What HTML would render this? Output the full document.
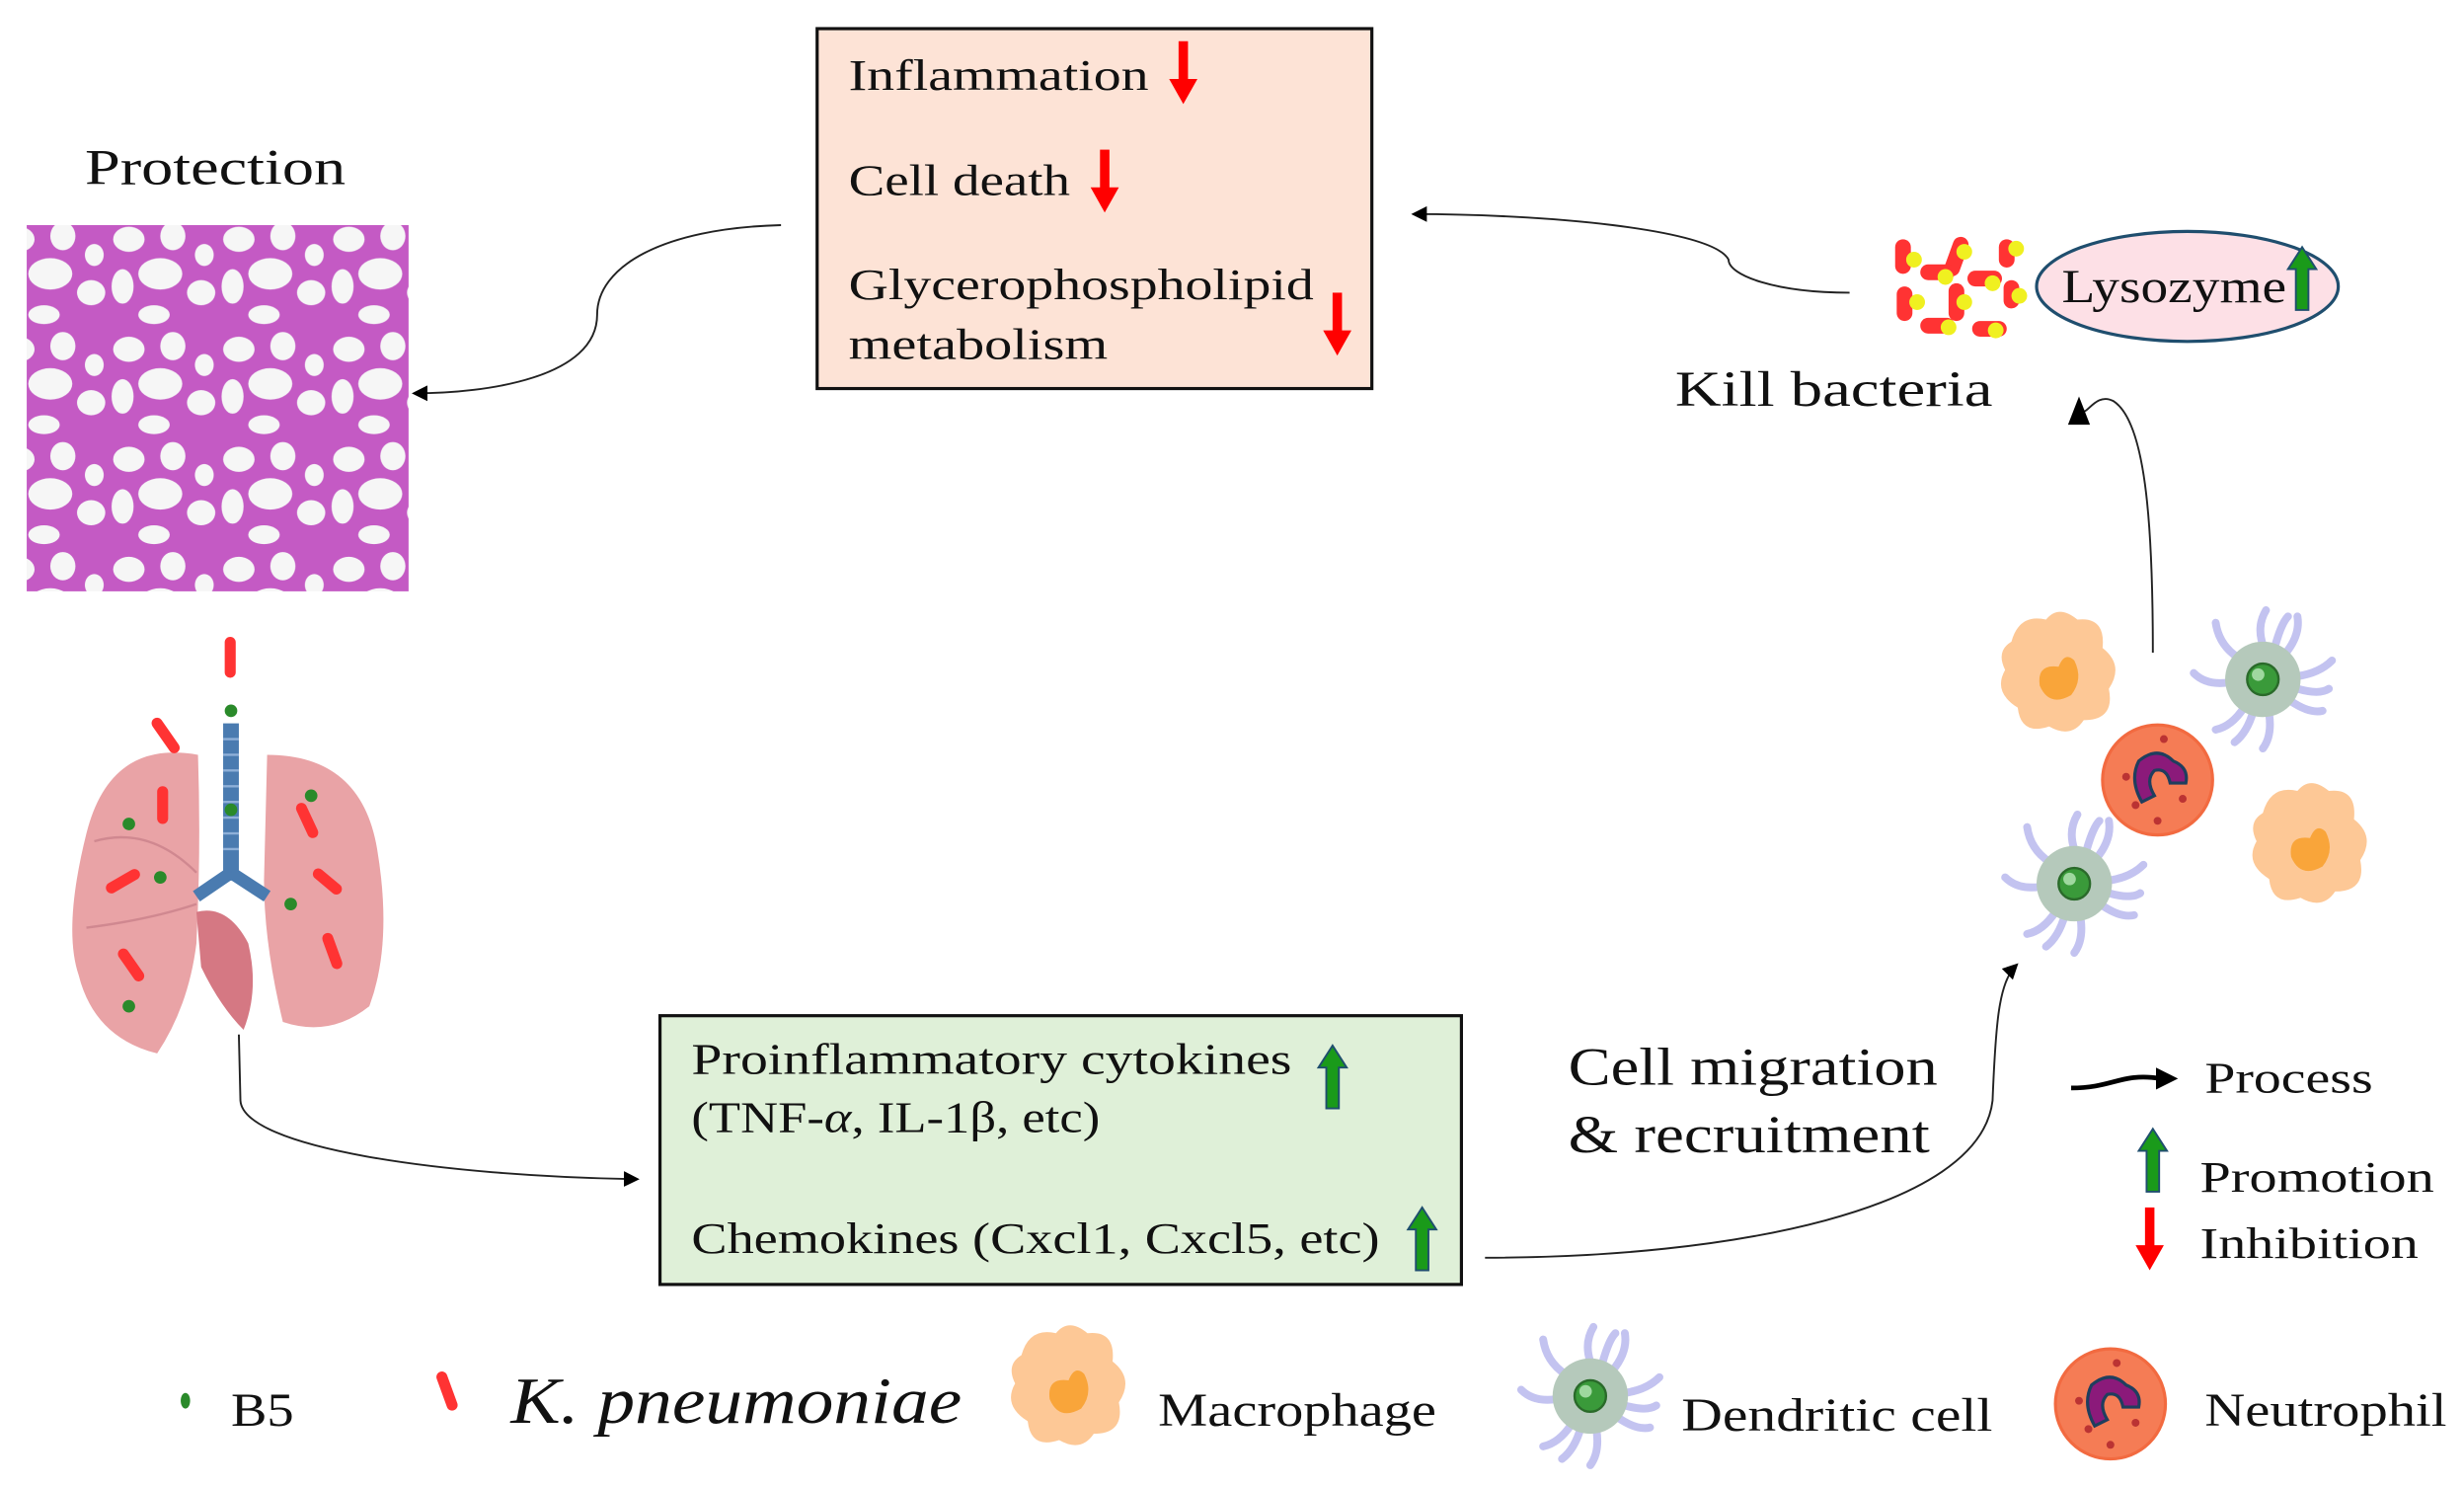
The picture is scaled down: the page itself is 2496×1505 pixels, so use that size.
<!DOCTYPE html>
<html><head><meta charset="utf-8"><style>
html,body{margin:0;padding:0;background:#fff;}
svg{display:block;}
text{font-family:"Liberation Serif",serif;fill:#111;}
</style></head><body>
<svg width="2496" height="1505" viewBox="0 0 1568 945" xmlns="http://www.w3.org/2000/svg">
<defs>
<marker id="ah" markerWidth="10" markerHeight="10" refX="8" refY="5" orient="auto" markerUnits="userSpaceOnUse">
<path d="M0,0 L10,5 L0,10 Z" fill="#000"/></marker>
<g id="red"><rect x="-3" y="0" width="6" height="26" fill="#f00"/><path d="M-9,24 L9,24 L0,40 Z" fill="#f00"/></g>
<g id="grn"><path d="M-4,40 L-4,14 L-9,14 L0,0 L9,14 L4,14 L4,40 Z" fill="#1a9a1a" stroke="#1f4e6e" stroke-width="1.2"/></g>
<g id="mac"><path d="M-30,-20 Q-25,-38 -8,-34 Q0,-44 12,-34 Q30,-36 28,-16 Q42,-5 32,10 Q36,30 16,30 Q8,42 -6,34 Q-24,40 -26,22 Q-42,12 -34,-2 Q-40,-14 -30,-20 Z" fill="#fdc896"/><path d="M-12,8 Q-14,-6 0,-4 Q4,-14 10,-8 Q16,4 8,14 Q-6,22 -12,8 Z" fill="#f9a53a"/></g>
<g id="den" stroke="#c3c3f0" stroke-width="5" stroke-linecap="round" fill="none">
<path d="M0,-22 Q-4,-34 2,-44 M14,-16 Q24,-28 22,-40 M22,-2 Q36,-4 44,-12 M18,14 Q30,22 38,20 M4,22 Q6,36 0,44 M-12,18 Q-20,30 -30,32 M-22,2 Q-36,4 -44,-4 M-16,-14 Q-28,-22 -30,-36 M8,-22 Q12,-36 16,-40 M-6,20 Q-10,34 -18,40 M22,6 Q36,10 42,6"/>
<circle r="24" fill="#b5c9bb" stroke="none"/><circle r="10" fill="#3a9a3a" stroke="#2a6a2a" stroke-width="1.5"/><circle cx="-3" cy="-3" r="4" fill="#9fd89f" stroke="none"/></g>
<g id="neu"><circle r="35" fill="#f57c55" stroke="#f26a40" stroke-width="2"/><path d="M10,-12 Q0,-22 -12,-12 Q-18,0 -10,14 L-2,10 Q-8,0 -2,-6 Q6,-8 8,2 L18,2 Q20,-8 10,-12 Z" fill="#8b1a7a" stroke="#1f3e5e" stroke-width="2"/>
<g fill="#b33"><circle cx="4" cy="-26" r="2.5"/><circle cx="-20" cy="-2" r="2.5"/><circle cx="-14" cy="16" r="2.5"/><circle cx="0" cy="26" r="2.5"/><circle cx="16" cy="12" r="2.5"/></g></g>
<pattern id="histo" width="70" height="70" patternUnits="userSpaceOnUse">
<rect width="70" height="70" fill="#c45ac4"/>
<g fill="#f6f6f6"><ellipse cx="12" cy="12" rx="10" ry="8"/><ellipse cx="40" cy="10" rx="8" ry="9"/><ellipse cx="32" cy="34" rx="14" ry="10"/><ellipse cx="8" cy="42" rx="7" ry="11"/><ellipse cx="58" cy="46" rx="9" ry="8"/><ellipse cx="28" cy="60" rx="10" ry="6"/><ellipse cx="60" cy="22" rx="6" ry="7"/></g></pattern>
</defs>

<rect x="520" y="18" width="353" height="229" fill="#fde3d6" stroke="#111" stroke-width="2"/>
<text x="540" y="57" font-size="28" textLength="191" lengthAdjust="spacingAndGlyphs">Inflammation</text>
<text x="540" y="124" font-size="28" textLength="141" lengthAdjust="spacingAndGlyphs">Cell death</text>
<text x="540" y="190" font-size="28" textLength="296" lengthAdjust="spacingAndGlyphs">Glycerophospholipid</text>
<text x="540" y="228" font-size="28" textLength="165" lengthAdjust="spacingAndGlyphs">metabolism</text>
<use href="#red" x="753" y="26"/><use href="#red" x="703" y="95"/><use href="#red" x="851" y="186"/>

<text x="54" y="117" font-size="32" textLength="166" lengthAdjust="spacingAndGlyphs">Protection</text>
<rect x="17" y="143" width="243" height="233" fill="url(#histo)"/>

<path d="M497,143 C420,145 380,170 380,200 C380,240 310,250 264,250" fill="none" stroke="#222" stroke-width="1.2" marker-end="url(#ah)"/>
<path d="M1177,186 C1130,186 1100,175 1100,165 C1090,145 980,136 900,136" fill="none" stroke="#222" stroke-width="1.2" marker-end="url(#ah)"/>

<g fill="#f33">
<rect x="1206" y="152" width="10" height="22" rx="5"/><rect x="1240" y="150" width="10" height="26" rx="5" transform="rotate(20 1245 163)"/><rect x="1272" y="152" width="10" height="18" rx="5"/>
<rect x="1222" y="168" width="22" height="10" rx="5"/><rect x="1252" y="172" width="22" height="10" rx="5"/>
<rect x="1207" y="182" width="10" height="22" rx="5"/><rect x="1240" y="180" width="10" height="24" rx="5"/><rect x="1275" y="178" width="10" height="18" rx="5"/>
<rect x="1222" y="202" width="22" height="10" rx="5"/><rect x="1255" y="204" width="22" height="10" rx="5"/></g>
<g fill="#f0f020"><circle cx="1218" cy="165" r="5"/><circle cx="1250" cy="160" r="5"/><circle cx="1283" cy="158" r="5"/><circle cx="1238" cy="176" r="5"/><circle cx="1268" cy="180" r="5"/><circle cx="1220" cy="192" r="5"/><circle cx="1250" cy="192" r="5"/><circle cx="1285" cy="188" r="5"/><circle cx="1240" cy="208" r="5"/><circle cx="1270" cy="210" r="5"/></g>
<ellipse cx="1392" cy="182" rx="96" ry="35" fill="#fde0e6" stroke="#1f4e6e" stroke-width="2"/>
<text x="1312" y="192" font-size="30" textLength="143" lengthAdjust="spacingAndGlyphs">Lysozyme</text>
<use href="#grn" x="1465" y="157"/>
<text x="1066" y="258" font-size="32" textLength="202" lengthAdjust="spacingAndGlyphs">Kill  bacteria</text>

<path d="M1370,415 C1370,330 1365,268 1345,255 C1332,248 1326,270 1324,258" fill="none" stroke="#222" stroke-width="1.2"/>
<path d="M1370,415 C1368,330 1362,285 1345,270 C1332,258 1325,250 1323,258" fill="none" stroke="none"/>
<path d="M1316,270 L1323,252 L1330,270 Z" fill="#000"/>

<use href="#mac" x="1310" y="428"/><use href="#den" x="1440" y="432"/><use href="#mac" x="1470" y="537"/><use href="#den" x="1320" y="562"/><use href="#neu" x="1373" y="496"/>

<path d="M945,800 C1100,800 1260,770 1268,700 C1270,650 1272,625 1283,614" fill="none" stroke="#222" stroke-width="1.2" marker-end="url(#ah)"/>
<text x="998" y="690" font-size="34" textLength="235" lengthAdjust="spacingAndGlyphs">Cell migration</text>
<text x="998" y="733" font-size="34" textLength="230" lengthAdjust="spacingAndGlyphs">&amp; recruitment</text>

<rect x="420" y="646" width="510" height="171" fill="#dff0d8" stroke="#111" stroke-width="2"/>
<text x="440" y="683" font-size="28" textLength="382" lengthAdjust="spacingAndGlyphs">Proinflammatory cytokines</text>
<text x="440" y="720" font-size="28" textLength="260" lengthAdjust="spacingAndGlyphs">(TNF-<tspan font-style="italic">α</tspan>, IL-1β, etc)</text>
<text x="440" y="797" font-size="28" textLength="438" lengthAdjust="spacingAndGlyphs">Chemokines (Cxcl1,  Cxcl5, etc)</text>
<use href="#grn" x="848" y="665"/><use href="#grn" x="905" y="768"/>

<path d="M126,480 Q70,470 55,530 Q40,590 50,620 Q60,660 100,670 Q120,640 125,600 Q128,540 126,480 Z" fill="#e9a3a6"/>
<path d="M170,480 Q230,480 240,540 Q250,600 235,640 Q210,660 180,650 Q168,600 168,560 Z" fill="#e9a3a6"/>
<path d="M125,580 Q145,575 158,600 Q165,630 155,655 Q140,640 128,615 Z" fill="#d57883"/>
<path d="M60,535 Q95,525 125,555 M55,590 Q95,585 125,575" stroke="#d08890" stroke-width="1.5" fill="none"/>
<rect x="142" y="460" width="10" height="100" fill="#4a7bb0"/>
<path d="M142,470 h10 M142,480 h10 M142,490 h10 M142,500 h10 M142,510 h10 M142,520 h10 M142,530 h10 M142,540 h10" stroke="#8fb0d8" stroke-width="1.5"/>
<path d="M147,555 L125,570 M147,555 L170,570" stroke="#4a7bb0" stroke-width="8" fill="none"/>
<g fill="#f33"><rect x="143" y="405" width="7" height="26" rx="3.5"/><rect x="102" y="455" width="7" height="26" rx="3.5" transform="rotate(-35 105 468)"/><rect x="100" y="500" width="7" height="24" rx="3.5"/><rect x="192" y="510" width="7" height="24" rx="3.5" transform="rotate(-25 195 522)"/><rect x="75" y="548" width="7" height="24" rx="3.5" transform="rotate(60 78 560)"/><rect x="205" y="550" width="7" height="22" rx="3.5" transform="rotate(-50 208 561)"/><rect x="80" y="602" width="7" height="24" rx="3.5" transform="rotate(-35 83 614)"/><rect x="208" y="593" width="7" height="24" rx="3.5" transform="rotate(-20 211 605)"/></g>
<g fill="#2a8a2a"><circle cx="147" cy="452" r="4"/><circle cx="82" cy="524" r="4"/><circle cx="198" cy="506" r="4"/><circle cx="102" cy="558" r="4"/><circle cx="185" cy="575" r="4"/><circle cx="82" cy="640" r="4"/><circle cx="147" cy="515" r="4"/></g>

<path d="M152,658 L153,700 C155,730 280,748 405,750" fill="none" stroke="#222" stroke-width="1.2" marker-end="url(#ah)"/>

<path d="M1318,692 C1345,692 1350,682 1375,686" stroke="#000" stroke-width="3" fill="none"/>
<path d="M1372,679 L1386,686 L1372,693 Z" fill="#000"/>
<text x="1403" y="695" font-size="28" textLength="107" lengthAdjust="spacingAndGlyphs">Process</text>
<use href="#grn" x="1370" y="718"/><text x="1400" y="758" font-size="28" textLength="149" lengthAdjust="spacingAndGlyphs">Promotion</text>
<use href="#red" x="1368" y="768"/><text x="1400" y="800" font-size="28" textLength="139" lengthAdjust="spacingAndGlyphs">Inhibition</text>

<ellipse cx="118" cy="891" rx="3" ry="5" fill="#2a8a2a"/>
<text x="147" y="907" font-size="30" textLength="40" lengthAdjust="spacingAndGlyphs">B5</text>
<rect x="281" y="872" width="7" height="26" rx="3.5" fill="#f33" transform="rotate(-20 284 885)"/>
<text x="325" y="905" font-size="42" font-style="italic" textLength="287" lengthAdjust="spacingAndGlyphs">K. pneumoniae</text>
<use href="#mac" x="680" y="882"/>
<text x="737" y="907" font-size="30" textLength="177" lengthAdjust="spacingAndGlyphs">Macrophage</text>
<use href="#den" x="1012" y="888"/>
<text x="1070" y="910" font-size="30" textLength="198" lengthAdjust="spacingAndGlyphs">Dendritic  cell</text>
<use href="#neu" x="1343" y="893"/>
<text x="1403" y="907" font-size="30" textLength="154" lengthAdjust="spacingAndGlyphs">Neutrophil</text>
</svg>
</body></html>
